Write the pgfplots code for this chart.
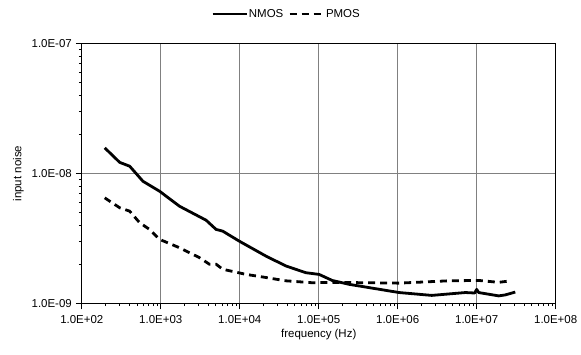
\documentclass[border=0pt]{standalone}
\usepackage{pgfplots}
\pgfplotsset{compat=1.18}
\usepackage{fontspec}
\setmainfont{Liberation Sans}
\begin{document}
\fontsize{11.5}{13}\selectfont
\begin{tikzpicture}[x=1pt,y=1pt]
\path (0,0) rectangle (581,355);
\begin{axis}[
  at={(82pt,51pt)}, anchor=south west,
  scale only axis, width=475pt, height=260pt,
  xmode=log, ymode=log,
  xmin=1e2, xmax=1e8, ymin=1e-9, ymax=1e-7,
  xtick={1e2,1e3,1e4,1e5,1e6,1e7,1e8},
  xticklabels={1.0E+02,1.0E+03,1.0E+04,1.0E+05,1.0E+06,1.0E+07,1.0E+08},
  ytick={1e-9,1e-8,1e-7},
  yticklabels={1.0E-09,1.0E-08,1.0E-07},
  minor tick num=0, minor xtick={}, minor ytick={},
  xtick pos=bottom, ytick pos=left,
  tick align=outside, major tick length=6pt,
  tick style={black, line width=1pt},
  axis line style={black, line width=1pt},
  grid=major, major grid style={gray, line width=0.8pt},
  xticklabel style={font=\fontsize{11.5}{13}\selectfont, yshift=-2pt},
  yticklabel style={font=\fontsize{11.5}{13}\selectfont},
  xlabel={frequency (Hz)}, ylabel={input noise},
  label style={font=\fontsize{11.5}{13}\selectfont},
  xlabel style={yshift=2pt},
  legend columns=2,
  legend style={at={(0.432,1.115)}, anchor=center, draw=none, fill=none,
    font=\fontsize{11.5}{13}\selectfont, column sep=0pt,
    /tikz/every even column/.append style={column sep=3pt},
    /tikz/every odd column/.append style={column sep=-1pt}},
  legend image code/.code={\draw[#1] (0pt,0pt) -- (34pt,0pt);},
]
\addplot[black, line width=2.8pt, line join=round] coordinates {
(195,1.58e-8) (302,1.22e-8) (404,1.14e-8) (594,8.73e-9) (966,7.31e-9)
(1726,5.60e-9) (3750,4.37e-9) (5020,3.71e-9) (6085,3.60e-9) (9886,3.01e-9)
(21500,2.31e-9) (38400,1.94e-9) (68800,1.72e-9) (101000,1.67e-9)
(148000,1.50e-9) (242000,1.40e-9) (1.04e6,1.21e-9) (2.7e6,1.15e-9)
(7.2e6,1.21e-9) (9.44e6,1.20e-9) (1.0e7,1.28e-9) (1.06e7,1.21e-9)
(1.9e7,1.14e-9) (2.3e7,1.16e-9) (3.08e7,1.22e-9)
};
\addlegendentry{NMOS}
\addplot[black, line width=2.8pt, dash pattern=on 7pt off 5pt] coordinates {
(195,6.50e-9) (302,5.45e-9) (404,5.13e-9) (540,4.18e-9) (722,3.71e-9)
(966,3.11e-9) (1726,2.68e-9) (3080,2.25e-9) (4130,2.0e-9) (5020,2.0e-9)
(6085,1.83e-9) (12000,1.67e-9) (21500,1.58e-9) (38400,1.49e-9)
(83000,1.44e-9) (148000,1.45e-9) (1.04e6,1.43e-9) (4.4e6,1.49e-9)
(1.06e7,1.50e-9) (1.9e7,1.45e-9) (2.7e7,1.49e-9)
};
\addlegendentry{PMOS}
\end{axis}
\end{tikzpicture}
\end{document}
